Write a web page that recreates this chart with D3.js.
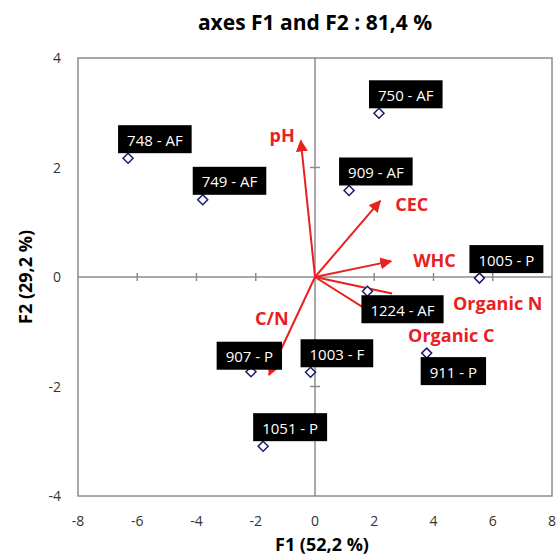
<!DOCTYPE html>
<html lang="en">
<head>
<meta charset="utf-8">
<script src="https://cdn.jsdelivr.net/npm/d3@7/dist/d3.min.js"></script>
<style>
  body { margin: 0; background: #fff; }
  text { font-family: "Open Sans", sans-serif; }
</style>
</head>
<body>
<svg id="plot" width="559" height="555"></svg>
<script>
// observations (F1, F2 scores)
const pointNames = ["748 - AF", "749 - AF", "750 - AF", "909 - AF", "1005 - P", "1224 - AF", "911 - P", "1003 - F", "907 - P", "1051 - P"]
const pointF1 = [-6.31, -3.79, 2.16, 1.15, 5.55, 1.77, 3.77, -0.15, -2.16, -1.75]
const pointF2 = [2.17, 1.41, 2.99, 1.58, -0.02, -0.26, -1.39, -1.74, -1.73, -3.09]
// where the black label box sits relative to its point
const pointLabelSide = ["above", "above", "above", "above", "above", "below", "below", "above", "aboveLeft", "above"]

// variable vectors
const varNames = ["pH", "CEC", "WHC", "Organic N", "Organic C", "C/N"]
const varF1 = [-0.48, 2.2, 2.57, 2.6, 2.4, -1.55]
const varF2 = [2.49, 1.39, 0.29, -0.3, -0.82, -1.79]
const varHead = [true, true, true, false, true, true]
// label offsets in pixels from the arrow tip
const varLabelDx = [-6, 15, 22, 61, 22, -14]
const varLabelDy = [1, 10, 6, 17, 20, -50]

const xTicks = [-8, -6, -4, -2, 0, 2, 4, 6, 8]
const yTicks = [-4, -2, 0, 2, 4]

const svg = d3.select("#plot")
const red = "#e8211f"
const grey = "#8c8c8c"

const x = d3.scaleLinear().domain([-8, 8]).range([78, 552])
const y = d3.scaleLinear().domain([-4, 4]).range([496, 58])

// title
svg.append("text")
    .attr("x", 315).attr("y", 30)
    .attr("text-anchor", "middle")
    .style("font-size", "21px").style("font-weight", "bold")
    .text("axes F1 and F2 : 81,4 %")

// frame
svg.append("rect")
    .attr("x", x(-8)).attr("y", y(4))
    .attr("width", x(8) - x(-8)).attr("height", y(-4) - y(4))
    .attr("fill", "none").attr("stroke", grey).attr("stroke-width", 1.5)

// axes through the origin
svg.append("line")
    .attr("x1", x(-8)).attr("x2", x(8)).attr("y1", y(0)).attr("y2", y(0))
    .attr("stroke", grey).attr("stroke-width", 1.5)
svg.append("line")
    .attr("x1", x(0)).attr("x2", x(0)).attr("y1", y(4)).attr("y2", y(-4))
    .attr("stroke", grey).attr("stroke-width", 1.5)

// crossing tick marks
svg.selectAll(".xtick")
    .data(xTicks.filter(d => d != 0 && Math.abs(d) != 8))
    .enter().append("line")
    .attr("x1", d => x(d)).attr("x2", d => x(d))
    .attr("y1", y(0) - 4).attr("y2", y(0) + 4)
    .attr("stroke", grey).attr("stroke-width", 1.5)
svg.selectAll(".ytick")
    .data(yTicks.filter(d => d != 0 && Math.abs(d) != 4))
    .enter().append("line")
    .attr("x1", x(0) - 5).attr("x2", x(0) + 5)
    .attr("y1", d => y(d)).attr("y2", d => y(d))
    .attr("stroke", grey).attr("stroke-width", 1.5)

// tick labels
svg.selectAll(".xlab")
    .data(xTicks)
    .enter().append("text")
    .attr("x", d => x(d)).attr("y", 526)
    .attr("text-anchor", "middle")
    .style("font-size", "14px").attr("fill", "#333")
    .text(d => d)
svg.selectAll(".ylab")
    .data(yTicks)
    .enter().append("text")
    .attr("x", 61).attr("y", d => y(d) + 5)
    .attr("text-anchor", "end")
    .style("font-size", "14px").attr("fill", "#333")
    .text(d => d)

// axis titles
svg.append("text")
    .attr("x", 322).attr("y", 551)
    .attr("text-anchor", "middle")
    .style("font-size", "18px").style("font-weight", "bold")
    .text("F1 (52,2 %)")
svg.append("text")
    .attr("transform", "translate(32," + y(0) + ") rotate(-90)")
    .attr("text-anchor", "middle")
    .style("font-size", "18px").style("font-weight", "bold")
    .text("F2 (29,2 %)")

// arrowhead
svg.append("defs").append("marker")
    .attr("id", "arrow")
    .attr("viewBox", "0 0 10 10")
    .attr("refX", 9).attr("refY", 5)
    .attr("markerWidth", 6).attr("markerHeight", 6)
    .attr("markerUnits", "strokeWidth")
    .attr("orient", "auto")
    .append("path")
    .attr("d", "M0,0 L10,5 L0,10 z")
    .attr("fill", red)

// vectors
const vars = varNames.map((n, i) => ({ name: n, f1: varF1[i], f2: varF2[i], head: varHead[i], dx: varLabelDx[i], dy: varLabelDy[i] }))
svg.selectAll(".vec")
    .data(vars)
    .enter().append("line")
    .attr("x1", x(0)).attr("y1", y(0))
    .attr("x2", d => x(d.f1)).attr("y2", d => y(d.f2))
    .attr("stroke", red).attr("stroke-width", 2)
    .attr("marker-end", d => d.head ? "url(#arrow)" : null)
svg.selectAll(".vlab")
    .data(vars)
    .enter().append("text")
    .attr("x", d => x(d.f1) + d.dx).attr("y", d => y(d.f2) + d.dy)
    .attr("text-anchor", d => d.name == "pH" ? "end" : "start")
    .style("font-size", "18px").style("font-weight", "bold")
    .attr("fill", red)
    .text(d => d.name)

// observation points
const points = pointNames.map((n, i) => ({ name: n, f1: pointF1[i], f2: pointF2[i], side: pointLabelSide[i] }))
svg.selectAll(".pt")
    .data(points)
    .enter().append("path")
    .attr("transform", d => "translate(" + x(d.f1) + "," + y(d.f2) + ")")
    .attr("d", "M0,-5 L5,0 L0,5 L-5,0 Z")
    .attr("fill", "#fff").attr("stroke", "#1a1a6e").attr("stroke-width", 1.5)

// black label boxes
const boxH = 28
points.forEach(d => {
    const px = x(d.f1), py = y(d.f2)
    const g = svg.append("g")
    const t = g.append("text")
        .style("font-size", "15px").attr("fill", "#fff")
        .text(d.name)
    const w = t.node().getComputedTextLength() + 18
    let bx, by
    if (d.side == "above") { bx = px - 10; by = py - 5 - boxH }
    else if (d.side == "below") { bx = px - 6; by = py + 4 }
    else { bx = px + 31 - w; by = py - 30 }
    g.insert("rect", "text")
        .attr("x", bx).attr("y", by).attr("width", w).attr("height", boxH)
        .attr("fill", "#000")
    t.attr("x", bx + 9).attr("y", by + 20.5)
})
</script>
</body>
</html>
